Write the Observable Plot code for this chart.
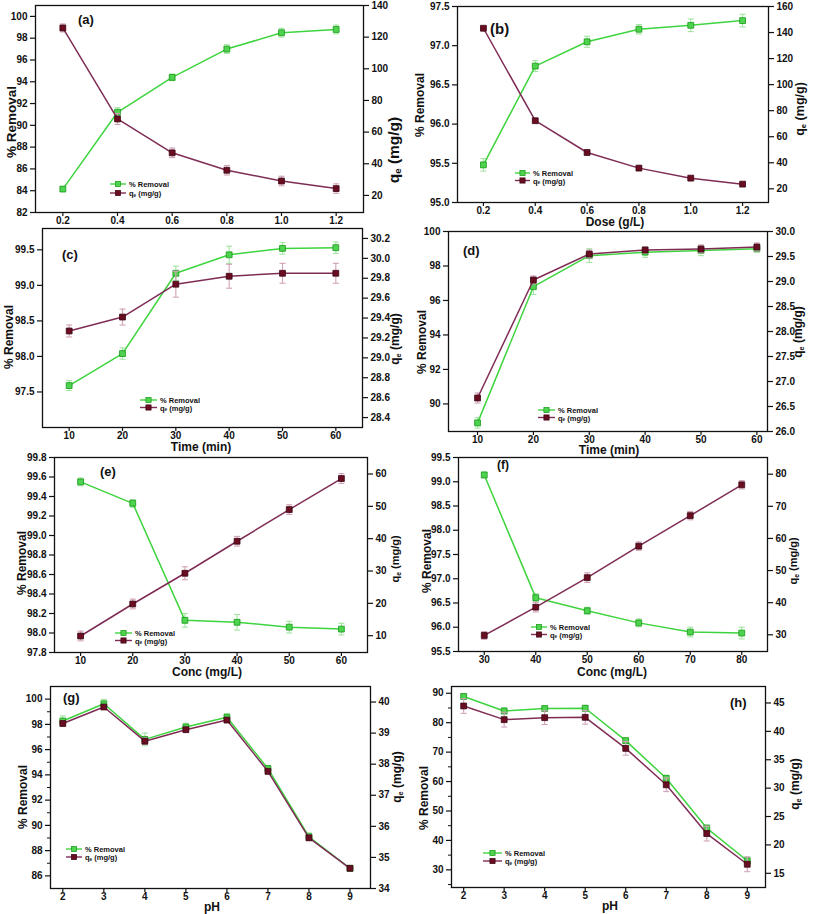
<!DOCTYPE html>
<html><head><meta charset="utf-8">
<script src="https://cdn.jsdelivr.net/npm/d3@7"></script>
<script src="https://cdn.jsdelivr.net/npm/@observablehq/plot@0.6"></script>
<style>
body{margin:0;background:#fff;}
#page{position:relative;width:813px;height:914px;overflow:hidden;background:#fff;}
.panel{position:absolute;}
.panel svg{position:absolute;left:0;top:0;overflow:visible;}
#overlay{position:absolute;left:0;top:0;}
</style></head><body><div id="page"></div>
<script>
// ---------------- data ----------------
const doseX = [0.2, 0.4, 0.6, 0.8, 1.0, 1.2];
const timeX = [10, 20, 30, 40, 50, 60];
const concXe = [10, 20, 30, 40, 50, 60];
const concXf = [30, 40, 50, 60, 70, 80];
const pHX = [2, 3, 4, 5, 6, 7, 8, 9];

const removalA = [84.15, 91.2, 94.4, 97.0, 98.5, 98.8];
const removalErrA = [0.2, 0.42, 0.3, 0.4, 0.4, 0.4];
const qeA = [125.8, 68.3, 46.9, 35.9, 29.1, 24.3];
const qeErrA = [2.5, 3.5, 3, 3, 3, 3];

const removalB = [95.48, 96.74, 97.05, 97.21, 97.26, 97.32];
const removalErrB = [0.08, 0.07, 0.07, 0.06, 0.08, 0.08];
const qeB = [143.3, 72.3, 47.9, 35.9, 28.2, 23.6];
const qeErrB = [0.5, 0.5, 0.5, 0.5, 0.5, 0.5];

const removalC = [97.59, 98.04, 99.17, 99.43, 99.52, 99.53];
const removalErrC = [0.07, 0.08, 0.1, 0.12, 0.08, 0.08];
const qeC = [29.27, 29.41, 29.74, 29.82, 29.85, 29.85];
const qeErrC = [0.06, 0.08, 0.13, 0.12, 0.1, 0.1];

const removalD = [88.9, 96.8, 98.6, 98.8, 98.9, 99.0];
const removalErrD = [0.3, 0.45, 0.4, 0.3, 0.3, 0.2];
const qeD = [26.67, 29.03, 29.55, 29.63, 29.65, 29.69];
const qeErrD = [0.1, 0.08, 0.08, 0.06, 0.08, 0.08];

const removalE = [99.55, 99.33, 98.13, 98.11, 98.06, 98.04];
const removalErrE = [0.04, 0.04, 0.07, 0.08, 0.06, 0.06];
const qeE = [9.9, 19.8, 29.3, 39.2, 49.0, 58.6];
const qeErrE = [1.5, 1.5, 2, 1.5, 1.5, 1.5];

const removalF = [99.14, 96.61, 96.34, 96.09, 95.90, 95.88];
const removalErrF = [0.06, 0.08, 0.07, 0.08, 0.1, 0.12];
const qeF = [29.8, 38.6, 47.8, 57.6, 67.1, 76.7];
const qeErrF = [1.2, 1.5, 1.5, 1.3, 1.3, 1.3];

const removalG = [98.27, 99.63, 96.81, 97.79, 98.56, 94.5, 89.1, 86.6];
const removalErrG = [0.4, 0.35, 0.5, 0.3, 0.3, 0.25, 0.3, 0.2];
const qeG = [39.31, 39.84, 38.74, 39.11, 39.42, 37.77, 35.63, 34.65];
const qeErrG = [0.08, 0.08, 0.1, 0.08, 0.08, 0.08, 0.08, 0.06];

const removalH = [88.9, 84.0, 84.8, 84.9, 73.9, 61.1, 44.2, 33.1];
const removalErrH = [1, 1, 1, 1, 1, 1, 1, 1.2];
const qeH = [44.47, 42.06, 42.41, 42.47, 37.0, 30.59, 22.0, 16.59];
const qeErrH = [1.3, 1.3, 1.2, 1.2, 1.2, 1.2, 1.3, 1.3];

// tick values
const ticksXDose = [0.2, 0.4, 0.6, 0.8, 1.0, 1.2];
const ticksXTime = [10, 20, 30, 40, 50, 60];
const ticksXConcE = [10, 20, 30, 40, 50, 60];
const ticksXConcF = [30, 40, 50, 60, 70, 80];
const ticksXpH = [2, 3, 4, 5, 6, 7, 8, 9];
const ticksYA = [82, 84, 86, 88, 90, 92, 94, 96, 98, 100];
const ticksY2A = [20, 40, 60, 80, 100, 120, 140];
const ticksYB = [95.0, 95.5, 96.0, 96.5, 97.0, 97.5];
const ticksY2B = [20, 40, 60, 80, 100, 120, 140, 160];
const ticksYC = [97.5, 98.0, 98.5, 99.0, 99.5];
const ticksY2C = [28.4, 28.6, 28.8, 29.0, 29.2, 29.4, 29.6, 29.8, 30.0, 30.2];
const ticksYD = [90, 92, 94, 96, 98, 100];
const ticksY2D = [26.0, 26.5, 27.0, 27.5, 28.0, 28.5, 29.0, 29.5, 30.0];
const ticksYE = [97.8, 98.0, 98.2, 98.4, 98.6, 98.8, 99.0, 99.2, 99.4, 99.6, 99.8];
const ticksY2E = [10, 20, 30, 40, 50, 60];
const ticksYF = [95.5, 96.0, 96.5, 97.0, 97.5, 98.0, 98.5, 99.0, 99.5];
const ticksY2F = [30, 40, 50, 60, 70, 80];
const ticksYG = [86, 88, 90, 92, 94, 96, 98, 100];
const minorYG = [87, 89, 91, 93, 95, 97, 99];
const ticksY2G = [34, 35, 36, 37, 38, 39, 40];
const ticksYH = [30, 40, 50, 60, 70, 80, 90];
const minorYH = [25, 35, 45, 55, 65, 75, 85];
const ticksY2H = [15, 20, 25, 30, 35, 40, 45];

const seriesNames = ["% Removal", "q|e| (mg/g)"];
const xTitles = {dose: "Dose (g/L)", time: "Time (min)", conc: "Conc (mg/L)", ph: "pH"};

// ---------------- style ----------------
const FONT = '"Liberation Sans", Arial, Helvetica, sans-serif';
const GREEN_LINE = "#3ed43e", GREEN_FILL = "#4fd24f", GREEN_EDGE = "#149a16", GREEN_ERR = "#a3e4a3";
const RED_LINE = "#7f2c55", RED_FILL = "#6a0d22", RED_EDGE = "#3a0511", RED_ERR = "#d0a2b8";
const ML = 42, MR = 44, MT = 4, MB = 26;
const f1 = d3.format(".1f"), fd = d3.format("d");

const panels = [
  {key: "(a)", xs: doseX, rem: removalA, remErr: removalErrA, qe: qeA, qeErr: qeErrA,
   L: 35, R: 363, T: 5, B: 212, xDomain: [0.1, 1.3], xTicks: ticksXDose, xFmt: f1,
   yDomain: [82, 101], yTicks: ticksYA, yFmt: fd, y2Domain: [9.2, 140], y2Ticks: ticksY2A, y2Fmt: fd,
   xTitle: null, lab: [78, 19, 13], lt: [11, 122, 13.5], rt: [393, 150, 15.5], leg: [110, 126, 184, 193]},
  {key: "(b)", xs: doseX, rem: removalB, remErr: removalErrB, qe: qeB, qeErr: qeErrB,
   L: 457, R: 768, T: 6, B: 202, xDomain: [0.1, 1.3], xTicks: ticksXDose, xFmt: f1,
   yDomain: [95, 97.5], yTicks: ticksYB, yFmt: f1, y2Domain: [9.5, 160], y2Ticks: ticksY2B, y2Fmt: fd,
   xTitle: [xTitles.dose, 615, 222], lab: [490, 28, 15], lt: [420, 105, 12], rt: [800, 109, 12.5], leg: [515, 530, 173, 180.5]},
  {key: "(c)", xs: timeX, rem: removalC, remErr: removalErrC, qe: qeC, qeErr: qeErrC,
   L: 42, R: 362, T: 228, B: 427, xDomain: [5, 65], xTicks: ticksXTime, xFmt: fd,
   yDomain: [97.0, 99.8], yTicks: ticksYC, yFmt: f1, y2Domain: [28.3, 30.3], y2Ticks: ticksY2C, y2Fmt: f1,
   xTitle: [xTitles.time, 201, 447], lab: [62, 254, 13], lt: [9, 337, 12], rt: [395, 339, 12], leg: [140, 157, 400, 407.5]},
  {key: "(d)", xs: timeX, rem: removalD, remErr: removalErrD, qe: qeD, qeErr: qeErrD,
   L: 448, R: 767, T: 231, B: 431, xDomain: [4.8, 61.9], xTicks: ticksXTime, xFmt: fd,
   yDomain: [88.4, 100], yTicks: ticksYD, yFmt: fd, y2Domain: [26, 30], y2Ticks: ticksY2D, y2Fmt: f1,
   xTitle: [xTitles.time, 609, 450], lab: [463, 250, 13], lt: [422, 342, 12], rt: [798, 332, 12], leg: [538, 555, 410, 417.5]},
  {key: "(e)", xs: concXe, rem: removalE, remErr: removalErrE, qe: qeE, qeErr: qeErrE,
   L: 54, R: 367, T: 457, B: 652, xDomain: [5, 65], xTicks: ticksXConcE, xFmt: fd,
   yDomain: [97.8, 99.8], yTicks: ticksYE, yFmt: f1, y2Domain: [4.8, 65.1], y2Ticks: ticksY2E, y2Fmt: fd,
   xTitle: [xTitles.conc, 207, 672], lab: [100, 471, 13], lt: [22, 563, 12], rt: [395, 559, 11], leg: [115, 132, 633, 640.5]},
  {key: "(f)", xs: concXf, rem: removalF, remErr: removalErrF, qe: qeF, qeErr: qeErrF,
   L: 458, R: 767, T: 457, B: 651, xDomain: [25, 85], xTicks: ticksXConcF, xFmt: fd,
   yDomain: [95.5, 99.5], yTicks: ticksYF, yFmt: f1, y2Domain: [24.8, 85.2], y2Ticks: ticksY2F, y2Fmt: fd,
   xTitle: [xTitles.conc, 612, 672], lab: [497, 465, 12], lt: [427, 561, 12], rt: [793, 561, 11], leg: [531, 547, 627, 634.5]},
  {key: "(g)", xs: pHX, rem: removalG, remErr: removalErrG, qe: qeG, qeErr: qeErrG,
   L: 50, R: 370, T: 686, B: 888, xDomain: [1.7, 9.5], xTicks: ticksXpH, xFmt: fd,
   yDomain: [85, 101], yTicks: ticksYG, yMinor: minorYG, yFmt: fd, y2Domain: [34, 40.5], y2Ticks: ticksY2G, y2Fmt: fd,
   xTitle: [xTitles.ph, 212, 907], lab: [63, 697, 13], lt: [23, 797, 12], rt: [397, 777, 12], leg: [66, 82, 849, 857]},
  {key: "(h)", xs: pHX, rem: removalH, remErr: removalErrH, qe: qeH, qeErr: qeErrH,
   L: 451, R: 765, T: 686, B: 887, xDomain: [1.7, 9.45], xTicks: ticksXpH, xFmt: fd,
   yDomain: [24, 92.3], yTicks: ticksYH, yMinor: minorYH, yFmt: fd, y2Domain: [12.5, 47.9], y2Ticks: ticksY2H, y2Fmt: fd,
   xTitle: [xTitles.ph, 610, 906], lab: [730, 702, 13], lt: [424, 798, 12], rt: [795, 784, 12], leg: [483, 502, 853, 861]}
];

const capSymbol = {draw(ctx, size) { const w = Math.sqrt(size) / 2; ctx.moveTo(-w, 0); ctx.lineTo(w, 0); }};
const page = document.getElementById("page");

function seriesMarks(data, lineC, fillC, edgeC, errC) {
  return [
    Plot.ruleX(data, {x: "x", y1: d => d.y - d.e, y2: d => d.y + d.e, stroke: errC, strokeWidth: 1.1}),
    Plot.dot(data, {x: "x", y: d => d.y + d.e, symbol: capSymbol, r: 3.4, fill: "none", stroke: errC, strokeWidth: 1.1}),
    Plot.dot(data, {x: "x", y: d => d.y - d.e, symbol: capSymbol, r: 3.4, fill: "none", stroke: errC, strokeWidth: 1.1}),
    Plot.line(data, {x: "x", y: "y", stroke: lineC, strokeWidth: 1.5}),
    Plot.dot(data, {x: "x", y: "y", symbol: "square", r: 3.3, fill: fillC, stroke: edgeC, strokeWidth: 0.8})
  ];
}

for (const p of panels) {
  const W = p.R - p.L + ML + MR, H = p.B - p.T + MT + MB;
  const div = document.createElement("div");
  div.className = "panel";
  div.style.left = (p.L - ML) + "px"; div.style.top = (p.T - MT) + "px";
  div.style.width = W + "px"; div.style.height = H + "px";
  page.appendChild(div);
  const remData = p.xs.map((x, i) => ({x, y: p.rem[i], e: p.remErr[i]}));
  const qeData = p.xs.map((x, i) => ({x, y: p.qe[i], e: p.qeErr[i]}));
  const style = {background: "transparent", fontFamily: FONT, fontSize: "10px", fontWeight: "bold", color: "#111", overflow: "visible"};
  const common = {width: W, height: H, marginLeft: ML, marginRight: MR, marginTop: MT, marginBottom: MB, style};
  const leftMarks = [
    Plot.frame({stroke: "#111", strokeWidth: 1.3}),
    Plot.axisX({ticks: p.xTicks, tickFormat: p.xFmt, tickSize: 4, tickPadding: 0, label: null, strokeWidth: 1.2}),
    Plot.axisY({anchor: "left", ticks: p.yTicks, tickFormat: p.yFmt, tickSize: 5, tickPadding: 3, label: null, strokeWidth: 1.2})
  ];
  if (p.yMinor) leftMarks.push(Plot.axisY({anchor: "left", ticks: p.yMinor, tickFormat: () => "", tickSize: 3, label: null, strokeWidth: 1}));
  const p1 = Plot.plot({...common, x: {domain: p.xDomain}, y: {domain: p.yDomain},
    marks: [...leftMarks, ...seriesMarks(remData, GREEN_LINE, GREEN_FILL, GREEN_EDGE, GREEN_ERR)]});
  const p2 = Plot.plot({...common, x: {domain: p.xDomain, axis: null}, y: {domain: p.y2Domain},
    marks: [
      Plot.axisY({anchor: "right", ticks: p.y2Ticks, tickFormat: p.y2Fmt, tickSize: 5, tickPadding: 3, label: null, strokeWidth: 1.2}),
      ...seriesMarks(qeData, RED_LINE, RED_FILL, RED_EDGE, RED_ERR)
    ]});
  div.appendChild(p1); div.appendChild(p2);
}

// ---------------- titles, panel labels, legends ----------------
const ov = d3.select(page).append("svg").attr("id", "overlay").attr("width", 813).attr("height", 914)
  .style("font-family", FONT).style("font-weight", "bold").attr("fill", "#111");

function qeText(sel, size) {
  const parts = seriesNames[1].split("|");
  sel.append("tspan").text(parts[0]);
  sel.append("tspan").attr("font-size", size * 0.62).attr("dy", size * 0.25).text(parts[1]);
  sel.append("tspan").attr("dy", -size * 0.25).text(parts[2]);
}

for (const p of panels) {
  ov.append("text").attr("x", p.lab[0]).attr("y", p.lab[1]).attr("dominant-baseline", "central")
    .attr("font-size", p.lab[2]).text(p.key);
  ov.append("text").attr("transform", `translate(${p.lt[0]},${p.lt[1]}) rotate(-90)`)
    .attr("text-anchor", "middle").attr("dominant-baseline", "central").attr("font-size", p.lt[2]).text(seriesNames[0]);
  const rt = ov.append("text").attr("transform", `translate(${p.rt[0]},${p.rt[1]}) rotate(-90)`)
    .attr("text-anchor", "middle").attr("dominant-baseline", "central").attr("font-size", p.rt[2]);
  qeText(rt, p.rt[2]);
  if (p.xTitle) ov.append("text").attr("x", p.xTitle[1]).attr("y", p.xTitle[2]).attr("text-anchor", "middle")
    .attr("dominant-baseline", "central").attr("font-size", 12).text(p.xTitle[0]);
  const [x1, x2, yA, yB] = p.leg, xm = (x1 + x2) / 2;
  const rows = [[yA, GREEN_LINE, GREEN_FILL, GREEN_EDGE], [yB, RED_LINE, RED_FILL, RED_EDGE]];
  rows.forEach(([y, lc, fc, ec], i) => {
    ov.append("line").attr("x1", x1).attr("x2", x2).attr("y1", y).attr("y2", y).attr("stroke", lc).attr("stroke-width", 1.4);
    ov.append("rect").attr("x", xm - 2.6).attr("y", y - 2.6).attr("width", 5.2).attr("height", 5.2)
      .attr("fill", fc).attr("stroke", ec).attr("stroke-width", 0.7);
    const t = ov.append("text").attr("x", x2 + 3).attr("y", y).attr("dominant-baseline", "central").attr("font-size", 7.5);
    if (i === 0) t.text(seriesNames[0]); else qeText(t, 7.5);
  });
}
</script></body></html>
